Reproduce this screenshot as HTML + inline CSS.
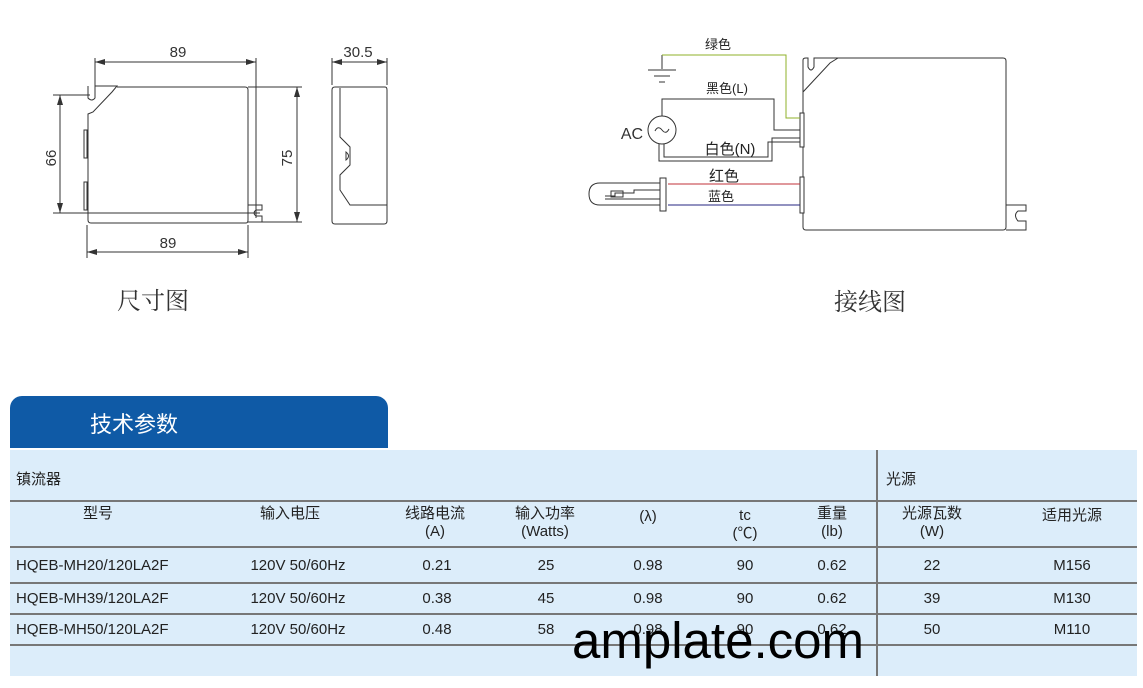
<!DOCTYPE html>
<html><head><meta charset="utf-8"><style>
body{margin:0;width:1143px;height:688px;background:#fff;position:relative;overflow:hidden;font-family:"Liberation Sans","Noto Sans CJK SC",sans-serif;}
.a{position:absolute;white-space:nowrap;}
.c{transform:translateX(-50%);text-align:center;}
.t{font-size:15px;color:#222;line-height:18px;}
</style></head><body>
<svg class="a" style="left:0;top:0" width="1143" height="340" font-family="Liberation Sans, Noto Sans CJK SC, sans-serif">
<defs><marker id="ar" viewBox="0 0 10 6" refX="10" refY="3" markerWidth="10" markerHeight="6" orient="auto-start-reverse" markerUnits="userSpaceOnUse"><path d="M0 0 L10 3 L0 6 Z" fill="#333"/></marker></defs>
<g stroke="#333" stroke-width="1" fill="none">
<path d="M95 86 L117 86 L112 92 L93 112 L88 114 L88 220 Q88 223 91 223 L246 223 Q248 223 248 220 L248 90 Q248 87 245 87 L117 87"/>
<path d="M88 86 L88 98 Q92 102 95 98 L95 86"/>
<rect x="84" y="130" width="3" height="28"/><rect x="84" y="182" width="3" height="28"/>
<path d="M248 205 L262 205 L262 210 L256 210 Q252 213 256 216 L262 216 L262 222 L248 222"/>
<path d="M95 58 L95 90 M256 58 L256 218 M53 95 L90 95 M53 213 L260 213 M248 87 L302 87 M248 222 L302 222 M87 225 L87 258 M248 225 L248 258 M332 58 L332 85 M387 58 L387 85"/>
<g marker-start="url(#ar)" marker-end="url(#ar)">
<path d="M95 62 L256 62"/><path d="M60 95 L60 213"/><path d="M297 87 L297 222"/><path d="M87 252 L248 252"/><path d="M332 62 L387 62"/>
</g>
<path d="M335 87 L385 87 Q387 87 387 90 L387 221 Q387 224 384 224 L335 224 Q332 224 332 221 L332 90 Q332 87 335 87 Z"/>
<path d="M340 88 L340 137 L350 147 L350 165 L340 175 L340 190 L350 205 L387 205"/>
<path d="M346 152 Q351 156 346 160 Z"/>
<path d="M838 58 L1003 58 Q1006 58 1006 61 L1006 227 Q1006 230 1003 230 L806 230 Q803 230 803 227 L803 92 L830 63 L838 58"/>
<path d="M803 92 L803 60 Q803 58 806 58 L808 58 L808 67 Q811 73 814 67 L814 58 L838 58"/>
<path d="M1006 205 L1026 205 L1026 211 L1018 211 Q1013 215 1018 221 L1026 221 L1026 230 L1006 230"/>
<rect x="800" y="113" width="4" height="34" fill="#fff"/><rect x="800" y="177" width="4" height="36" fill="#fff"/>
<path d="M662 55 L662 69 M648 70 L676 70 M654 76 L670 76 M659 82 L665 82"/>
<circle cx="662" cy="130" r="14"/>
<path d="M655 131 Q658 125 662 130 Q666 135 669 129"/>
<path d="M662 116 L662 99 L774 99 L774 130 L800 130"/>
<path d="M659 144 L659 161 L772 161 L772 138 L800 138 M664 144 L664 157 L768 157 L768 142 L800 142"/>
<path d="M660 183 L600 183 Q589 183 589 194 Q589 205 600 205 L660 205"/>
<path d="M605 196 L615 196 L615 193 L634 193 L634 190 L660 190 M605 199 L660 199"/>
<rect x="611" y="191" width="12" height="6"/>
<rect x="660" y="178" width="6" height="33" fill="#fff"/>
</g>
<path d="M662 55 L786 55 L786 118 L800 118" stroke="#8fb02a" fill="none"/>
<path d="M668 184 L800 184" stroke="#c0303a"/><path d="M668 205 L800 205" stroke="#262680"/>
<g fill="#333" font-size="15">
<text x="178" y="57" text-anchor="middle">89</text>
<text x="168" y="248" text-anchor="middle">89</text>
<text x="358" y="57" text-anchor="middle">30.5</text>
<text transform="translate(56,158) rotate(-90)" text-anchor="middle">66</text>
<text transform="translate(292,158) rotate(-90)" text-anchor="middle">75</text>
<text x="632" y="139" text-anchor="middle" font-size="16">AC</text>
</g>
<g fill="#222" font-size="13" text-anchor="middle">
<text x="718" y="49">绿色</text><text x="727" y="93">黑色(L)</text><text x="730" y="154" font-size="15">白色(N)</text>
<text x="724" y="181" font-size="15">红色</text><text x="721" y="201">蓝色</text>
</g>
<g fill="#333" font-size="24" font-family="Liberation Serif, Noto Serif CJK SC, serif" text-anchor="middle">
<text x="153" y="309">尺寸图</text><text x="870" y="310">接线图</text>
</g>
</svg>
<div class="a" style="left:10px;top:396px;width:378px;height:52px;background:#0f5aa6;border-radius:12px 12px 0 0;"></div>
<div class="a" style="left:90px;top:407px;font-size:22px;color:#fff;">技术参数</div>
<div class="a" style="left:10px;top:450px;width:1127px;height:226px;background:#dcedfa;"></div>
<div class="a" style="left:876px;top:450px;width:2px;height:226px;background:#777;"></div>
<div class="a" style="left:10px;top:500px;width:1127px;height:2px;background:#777;"></div>
<div class="a" style="left:10px;top:546px;width:1127px;height:2px;background:#777;"></div>
<div class="a" style="left:10px;top:582px;width:1127px;height:2px;background:#777;"></div>
<div class="a" style="left:10px;top:613px;width:1127px;height:2px;background:#777;"></div>
<div class="a" style="left:10px;top:644px;width:1127px;height:2px;background:#777;"></div>
<div class="a t" style="left:16px;top:471px;">镇流器</div>
<div class="a t" style="left:886px;top:471px;">光源</div>
<div class="a t c" style="left:98px;top:505px;">型号</div>
<div class="a t c" style="left:290px;top:505px;">输入电压</div>
<div class="a t c" style="left:435px;top:505px;">线路电流<br>(A)</div>
<div class="a t c" style="left:545px;top:505px;">输入功率<br>(Watts)</div>
<div class="a t c" style="left:648px;top:508px;">(λ)</div>
<div class="a t c" style="left:745px;top:507px;">tc<br>(℃)</div>
<div class="a t c" style="left:832px;top:505px;">重量<br>(lb)</div>
<div class="a t c" style="left:932px;top:505px;">光源瓦数<br>(W)</div>
<div class="a t c" style="left:1072px;top:507px;">适用光源</div>
<div class="a t" style="left:16px;top:557px;">HQEB-MH20/120LA2F</div>
<div class="a t" style="left:16px;top:590px;">HQEB-MH39/120LA2F</div>
<div class="a t" style="left:16px;top:621px;">HQEB-MH50/120LA2F</div>
<div class="a t c" style="left:298px;top:557px;">120V 50/60Hz</div><div class="a t c" style="left:437px;top:557px;">0.21</div><div class="a t c" style="left:546px;top:557px;">25</div><div class="a t c" style="left:648px;top:557px;">0.98</div><div class="a t c" style="left:745px;top:557px;">90</div><div class="a t c" style="left:832px;top:557px;">0.62</div><div class="a t c" style="left:932px;top:557px;">22</div><div class="a t c" style="left:1072px;top:557px;">M156</div>
<div class="a t c" style="left:298px;top:590px;">120V 50/60Hz</div><div class="a t c" style="left:437px;top:590px;">0.38</div><div class="a t c" style="left:546px;top:590px;">45</div><div class="a t c" style="left:648px;top:590px;">0.98</div><div class="a t c" style="left:745px;top:590px;">90</div><div class="a t c" style="left:832px;top:590px;">0.62</div><div class="a t c" style="left:932px;top:590px;">39</div><div class="a t c" style="left:1072px;top:590px;">M130</div>
<div class="a t c" style="left:298px;top:621px;">120V 50/60Hz</div><div class="a t c" style="left:437px;top:621px;">0.48</div><div class="a t c" style="left:546px;top:621px;">58</div><div class="a t c" style="left:648px;top:621px;">0.98</div><div class="a t c" style="left:745px;top:621px;">90</div><div class="a t c" style="left:832px;top:621px;">0.62</div><div class="a t c" style="left:932px;top:621px;">50</div><div class="a t c" style="left:1072px;top:621px;">M110</div>
<div class="a" style="left:572px;top:611px;font-size:51px;color:#000;line-height:60px;">amplate.com</div>
</body></html>
